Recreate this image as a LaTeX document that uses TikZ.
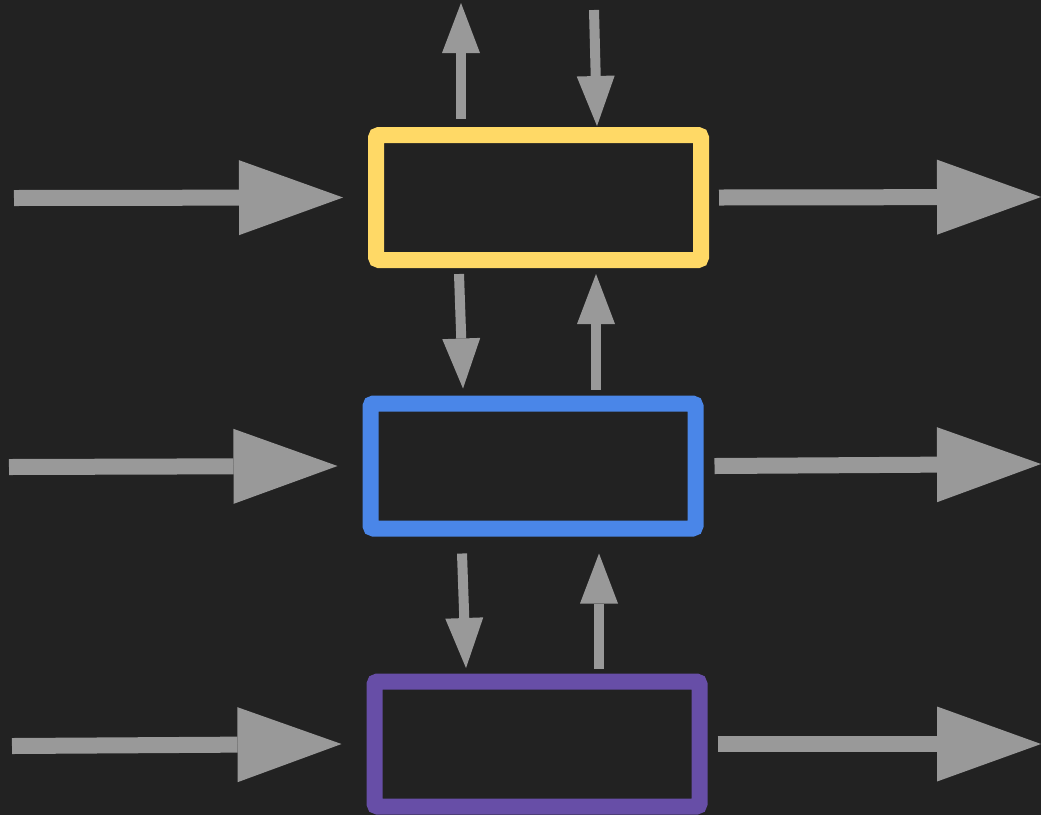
\documentclass[tikz,border=0pt]{standalone}
\usepackage{tikz}
\usetikzlibrary{positioning,arrows.meta}

\definecolor{bgdark}{HTML}{222222}
\definecolor{stageyellow}{HTML}{FFD966}
\definecolor{stageblue}{HTML}{4A86E8}
\definecolor{stagepurple}{HTML}{674EA7}
\definecolor{arrowgray}{HTML}{999999}

\begin{document}
\begin{tikzpicture}[
  x=1pt, y=-1pt,
  stage/.style={draw, line width=16pt, rounded corners=3pt, minimum width=325pt, minimum height=125pt, inner sep=0pt, outer sep=0pt},
  flow/.style={draw=arrowgray, line width=16pt, -{Triangle[length=104pt, width=75pt, line width=0pt]}},
  link/.style={draw=arrowgray, line width=10pt, -{Triangle[length=50pt, width=38pt, line width=0pt]}}
]
  % Background
  \fill[bgdark] (0,0) rectangle (1041,815);
  \useasboundingbox (0,0) rectangle (1041,815);

  % Stages
  \node[stage, draw=stageyellow] (top) at (538.5,197.5) {};
  \node[stage, draw=stageblue]   (mid) at (533,466)     {};
  \node[stage, draw=stagepurple] (bot) at (537,744)     {};

  % Free ends
  \coordinate (in1)  at (14,198);
  \coordinate (in2)  at (9,467);
  \coordinate (in3)  at (12,746);
  \coordinate (out1) at (1041,197);
  \coordinate (out2) at (1041,464);
  \coordinate (out3) at (1041,744);
  \coordinate (up0)   at (461,3);
  \coordinate (down0) at (594,10);

  % Inputs and outputs
  \draw[flow] (in1) -- ([xshift=-33pt]top.west);
  \draw[flow] (in2) -- ([xshift=-33pt]mid.west);
  \draw[flow] (in3) -- ([xshift=-33pt]bot.west);
  \draw[flow] ([xshift=18pt]top.east) -- (out1);
  \draw[flow] ([xshift=19pt]mid.east) -- (out2);
  \draw[flow] ([xshift=18pt]bot.east) -- (out3);

  % Links between stages
  \draw[link] ([xshift=-77.5pt,yshift=16pt]top.north) -- (up0);
  \draw[link] (down0) -- ([xshift=58.5pt,yshift=9pt]top.north);
  \draw[link] ([xshift=-79.5pt,yshift=-14pt]top.south) -- ([xshift=-70pt,yshift=15pt]mid.north);
  \draw[link] ([xshift=63pt,yshift=14pt]mid.north) -- ([xshift=57.5pt,yshift=-14pt]top.south);
  \draw[link] ([xshift=-71pt,yshift=-25pt]mid.south) -- ([xshift=-71pt,yshift=13.5pt]bot.north);
  \draw[link] ([xshift=62pt,yshift=12.5pt]bot.north) -- ([xshift=66pt,yshift=-25pt]mid.south);
\end{tikzpicture}
\end{document}
